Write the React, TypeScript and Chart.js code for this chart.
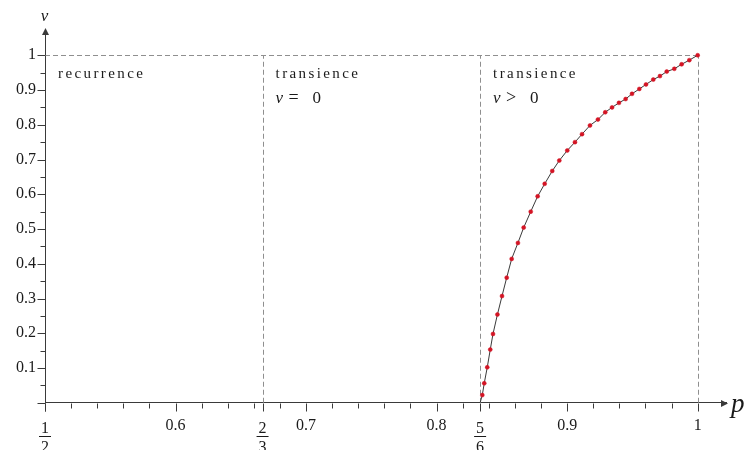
import { useEffect, useRef } from "react";
import { Chart, registerables } from "chart.js";

Chart.register(...registerables);

// ---- data ----
const pValues = [
  5 / 6, 0.835, 0.8365, 0.8388, 0.8411, 0.8432, 0.8466, 0.8501, 0.8537, 0.8575,
  0.8623, 0.8667, 0.8721, 0.8774, 0.8828, 0.8886, 0.894, 0.9001, 0.906, 0.9114,
  0.9175, 0.9236, 0.9292, 0.9344, 0.9397, 0.9448, 0.9497, 0.9553, 0.9604, 0.966,
  0.9711, 0.9763, 0.9821, 0.9877, 0.9936, 1.0,
];
const vValues = [
  0, 0.022, 0.056, 0.102, 0.153, 0.198, 0.254, 0.307, 0.36, 0.414,
  0.46, 0.504, 0.55, 0.594, 0.63, 0.667, 0.697, 0.726, 0.75, 0.773,
  0.798, 0.815, 0.836, 0.85, 0.863, 0.874, 0.889, 0.903, 0.916, 0.93,
  0.94, 0.953, 0.961, 0.974, 0.986, 1.0,
];

const xTickValues = [0.6, 0.7, 0.8, 0.9, 1];
const xTickLabels = ["0.6", "0.7", "0.8", "0.9", "1"];
const fractionValues = [1 / 2, 2 / 3, 5 / 6];
const fractionNumerators = ["1", "2", "5"];
const fractionDenominators = ["2", "3", "6"];
const yTickValues = [0.1, 0.2, 0.3, 0.4, 0.5, 0.6, 0.7, 0.8, 0.9, 1];
const yTickLabels = ["0.1", "0.2", "0.3", "0.4", "0.5", "0.6", "0.7", "0.8", "0.9", "1"];

const regionStarts = [1 / 2, 2 / 3, 5 / 6];
const regionBoundaries = [2 / 3, 5 / 6, 1];
const regionTitles = ["recurrence", "transience", "transience"];
const regionConditions = ["", "= 0", "> 0"];

const X_MIN = 0.5;
const X_MAX = 1.0217;
const Y_MIN = 0;
const Y_MAX = 1.0727;

const SERIF = "'Liberation Serif', 'DejaVu Serif', serif";
const AXIS_COLOR = "#3a3a3a";
const TEXT_COLOR = "#1a1a1a";

const decorPlugin = {
  id: "decor",
  beforeDatasetsDraw(chart: any) {
    const { ctx } = chart;
    const xs = chart.scales.x;
    const ys = chart.scales.y;
    ctx.save();
    ctx.strokeStyle = "#8f8f8f";
    ctx.lineWidth = 1;
    ctx.setLineDash([5, 3]);
    // horizontal v = 1
    ctx.beginPath();
    ctx.moveTo(xs.getPixelForValue(0.5), Math.round(ys.getPixelForValue(1)) + 0.5);
    ctx.lineTo(xs.getPixelForValue(1), Math.round(ys.getPixelForValue(1)) + 0.5);
    ctx.stroke();
    regionBoundaries.forEach((b) => {
      const px = Math.round(xs.getPixelForValue(b)) + 0.5;
      ctx.beginPath();
      ctx.moveTo(px, ys.getPixelForValue(0));
      ctx.lineTo(px, ys.getPixelForValue(1));
      ctx.stroke();
    });
    ctx.setLineDash([]);

    // region annotations
    ctx.fillStyle = TEXT_COLOR;
    ctx.textBaseline = "alphabetic";
    ctx.textAlign = "left";
    regionStarts.forEach((s, i) => {
      const px = xs.getPixelForValue(s) + 13;
      ctx.font = `15px ${SERIF}`;
      (ctx as any).letterSpacing = "2.4px";
      ctx.fillText(regionTitles[i], px, 78);
      (ctx as any).letterSpacing = "0px";
      if (regionConditions[i]) {
        ctx.font = `italic 17px ${SERIF}`;
        ctx.fillText("v", px, 103);
        ctx.font = `18px ${SERIF}`;
        const parts = regionConditions[i].split(" ");
        ctx.fillText(parts[0], px + 13, 103);
        ctx.font = `17px ${SERIF}`;
        ctx.fillText(parts[1], px + 37, 103);
      }
    });
    ctx.restore();
  },
  afterDraw(chart: any) {
    const { ctx } = chart;
    const xs = chart.scales.x;
    const ys = chart.scales.y;
    const ax = Math.round(xs.getPixelForValue(0.5)) + 0.5;
    const ay = Math.round(ys.getPixelForValue(0)) + 0.5;
    ctx.save();
    ctx.strokeStyle = AXIS_COLOR;
    ctx.fillStyle = AXIS_COLOR;
    ctx.lineWidth = 1;
    // x ticks
    for (let k = 0; k <= 25; k++) {
      const v = 0.5 + k * 0.02;
      const px = Math.round(xs.getPixelForValue(v)) + 0.5;
      const major = k % 5 === 0;
      ctx.beginPath();
      ctx.moveTo(px, ay);
      ctx.lineTo(px, ay + (major ? 8 : 5));
      ctx.stroke();
    }
    fractionValues.forEach((f) => {
      const px = Math.round(xs.getPixelForValue(f)) + 0.5;
      ctx.beginPath();
      ctx.moveTo(px, ay);
      ctx.lineTo(px, ay + 8);
      ctx.stroke();
    });
    // y ticks
    for (let k = 0; k <= 20; k++) {
      const v = k * 0.05;
      const py = Math.round(ys.getPixelForValue(v)) + 0.5;
      const major = k % 2 === 0;
      ctx.beginPath();
      ctx.moveTo(ax, py);
      ctx.lineTo(ax - (major ? 8 : 5), py);
      ctx.stroke();
    }
    // arrowheads
    const right = xs.getPixelForValue(X_MAX);
    ctx.beginPath();
    ctx.moveTo(right + 2, ay);
    ctx.lineTo(right - 5, ay - 3.5);
    ctx.lineTo(right - 5, ay + 3.5);
    ctx.closePath();
    ctx.fill();
    const top = ys.getPixelForValue(Y_MAX);
    ctx.beginPath();
    ctx.moveTo(ax, top - 2);
    ctx.lineTo(ax - 3.5, top + 5);
    ctx.lineTo(ax + 3.5, top + 5);
    ctx.closePath();
    ctx.fill();

    // fractions
    ctx.fillStyle = TEXT_COLOR;
    ctx.strokeStyle = TEXT_COLOR;
    ctx.textAlign = "center";
    ctx.textBaseline = "alphabetic";
    ctx.font = `16px ${SERIF}`;
    fractionValues.forEach((f, i) => {
      const px = xs.getPixelForValue(f);
      ctx.fillText(fractionNumerators[i], px, 433);
      ctx.beginPath();
      ctx.moveTo(px - 6, 436.5);
      ctx.lineTo(px + 6, 436.5);
      ctx.stroke();
      ctx.fillText(fractionDenominators[i], px, 452);
    });

    // axis titles
    ctx.font = `italic 17px ${SERIF}`;
    ctx.fillText("v", ax - 1, 21);
    ctx.font = `italic 27px ${SERIF}`;
    ctx.textAlign = "left";
    ctx.fillText("p", right + 5, 412);
    ctx.restore();
  },
};

export default function App() {
  const canvasRef = useRef<HTMLCanvasElement | null>(null);

  useEffect(() => {
    document.body.style.margin = "0";
    const canvas = canvasRef.current;
    if (!canvas) return;
    const data = pValues.map((p, i) => ({ x: p, y: vValues[i] }));
    const chart = new Chart(canvas, {
      type: "scatter",
      data: {
        datasets: [
          {
            data,
            showLine: true,
            borderColor: "#3a3a3a",
            borderWidth: 1,
            pointRadius: (c: any) => (c.dataIndex === 0 ? 0 : 2),
            pointBackgroundColor: "#d41424",
            pointBorderColor: "#d41424",
            pointBorderWidth: 0.5,
          },
        ],
      },
      options: {
        responsive: false,
        animation: false,
        devicePixelRatio: 1,
        layout: { padding: { left: 0, right: 23, top: 30, bottom: 0 } },
        plugins: { legend: { display: false }, tooltip: { enabled: false } },
        scales: {
          x: {
            type: "linear",
            min: X_MIN,
            max: X_MAX,
            afterBuildTicks: (s: any) => {
              s.ticks = xTickValues.map((value) => ({ value }));
            },
            afterFit: (s: any) => {
              s.height = 47.25;
            },
            grid: { display: false, drawTicks: false },
            border: { display: true, color: AXIS_COLOR, width: 1 },
            ticks: {
              autoSkip: false,
              maxRotation: 0,
              padding: 13,
              color: TEXT_COLOR,
              font: { family: SERIF, size: 16 },
              callback: (v: any) => {
                const i = xTickValues.findIndex((t) => Math.abs(t - Number(v)) < 1e-6);
                return i >= 0 ? xTickLabels[i] : "";
              },
            },
          },
          y: {
            type: "linear",
            min: Y_MIN,
            max: Y_MAX,
            afterBuildTicks: (s: any) => {
              s.ticks = yTickValues.map((value) => ({ value }));
            },
            afterFit: (s: any) => {
              s.width = 45;
            },
            grid: { display: false, drawTicks: false },
            border: { display: true, color: AXIS_COLOR, width: 1 },
            ticks: {
              autoSkip: false,
              padding: 9,
              color: TEXT_COLOR,
              font: { family: SERIF, size: 16 },
              callback: (v: any) => {
                const i = yTickValues.findIndex((t) => Math.abs(t - Number(v)) < 1e-6);
                return i >= 0 ? yTickLabels[i] : "";
              },
            },
          },
        },
      },
      plugins: [decorPlugin],
    });
    return () => chart.destroy();
  }, []);

  return (
    <div style={{ width: 749, height: 450, background: "#fff" }}>
      <canvas ref={canvasRef} width={749} height={450} style={{ display: "block" }} />
    </div>
  );
}
